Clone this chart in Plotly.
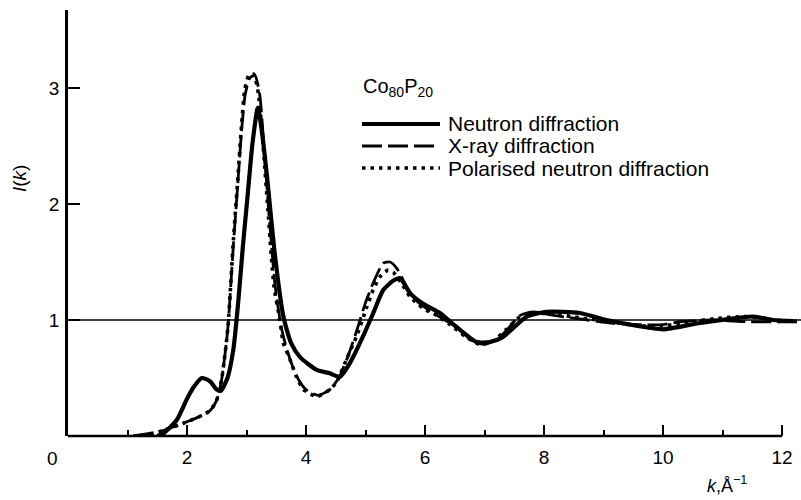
import plotly.graph_objects as go

# Interference function I(k) of amorphous Co80P20
k_neutron = [1.50, 1.60, 1.83, 1.99, 2.11, 2.25, 2.39, 2.50, 2.57, 2.68, 2.78, 2.86, 2.94,
             3.02, 3.10, 3.19, 3.26, 3.34, 3.48, 3.62, 3.75, 3.90, 4.18, 4.40, 4.57, 4.74,
             4.96, 5.13, 5.30, 5.47, 5.58, 5.75, 5.97, 6.25, 6.53, 6.87, 7.09, 7.30, 7.71,
             8.04, 8.60, 9.05, 9.45, 10.0, 10.57, 11.13, 11.52, 11.85, 12.19]
i_neutron = [0.0, 0.02, 0.14, 0.31, 0.42, 0.50, 0.47, 0.40, 0.39, 0.50, 0.75, 1.15, 1.64,
             2.08, 2.52, 2.83, 2.62, 2.26, 1.55, 1.03, 0.80, 0.68, 0.57, 0.54, 0.51, 0.63,
             0.86, 1.06, 1.26, 1.34, 1.36, 1.23, 1.14, 1.06, 0.94, 0.81, 0.81, 0.85, 1.03,
             1.07, 1.06, 1.00, 0.96, 0.92, 0.97, 1.01, 1.03, 1.00, 0.99]

k_xray = [1.10, 1.55, 1.94, 2.22, 2.39, 2.50, 2.58, 2.64, 2.69, 2.78, 2.86, 2.92, 2.98, 3.06,
          3.14, 3.22, 3.30, 3.38, 3.48, 3.58, 3.66, 3.76, 3.88, 4.00, 4.20, 4.40, 4.55, 4.70,
          4.86, 5.00, 5.13, 5.30, 5.41, 5.52, 5.69, 5.85, 6.05, 6.30, 6.55, 6.80, 7.00, 7.20,
          7.37, 7.60, 7.82, 8.16, 8.60, 9.17, 9.60, 10.0, 10.29, 10.85, 11.41, 11.85, 12.30]
i_xray = [0.0, 0.04, 0.11, 0.17, 0.22, 0.31, 0.48, 0.71, 0.95, 1.65, 2.22, 2.65, 2.95, 3.09,
          3.11, 2.95, 2.45, 1.90, 1.30, 0.95, 0.78, 0.62, 0.48, 0.40, 0.35, 0.40, 0.50, 0.68,
          0.92, 1.15, 1.32, 1.49, 1.50, 1.45, 1.29, 1.17, 1.09, 1.01, 0.93, 0.82, 0.79, 0.83,
          0.91, 1.04, 1.07, 1.04, 1.01, 0.97, 0.96, 0.96, 0.985, 1.00, 0.985, 0.985, 0.985]

k_polar = [1.10, 1.30, 1.55, 1.94, 2.22, 2.39, 2.50, 2.58, 2.64, 2.69, 2.78, 2.86, 2.92, 2.97,
           3.04, 3.12, 3.20, 3.28, 3.36, 3.46, 3.56, 3.62, 3.73, 3.84, 3.96, 4.18, 4.40, 4.52,
           4.68, 4.85, 5.02, 5.13, 5.24, 5.38, 5.47, 5.60, 5.75, 5.97, 6.20, 6.42, 6.70, 6.92,
           7.15, 7.37, 7.60, 7.82, 8.16, 8.60, 9.17, 9.60, 10.0, 10.29, 10.85, 11.41, 11.85, 12.25]
i_polar = [0.0, 0.0, 0.04, 0.11, 0.17, 0.22, 0.31, 0.48, 0.71, 0.95, 1.69, 2.26, 2.70, 2.98,
           3.11, 3.12, 2.95, 2.50, 1.95, 1.30, 1.00, 0.80, 0.66, 0.51, 0.40, 0.34, 0.40, 0.47,
           0.66, 0.86, 1.11, 1.26, 1.37, 1.43, 1.41, 1.32, 1.20, 1.10, 1.04, 0.96, 0.85, 0.79,
           0.82, 0.92, 1.03, 1.06, 1.05, 1.02, 0.98, 0.95, 0.95, 0.97, 1.01, 1.03, 1.00, 0.99]

series_names = ["Neutron diffraction", "X-ray diffraction", "Polarised neutron diffraction"]
x_major = [2, 4, 6, 8, 10, 12]
x_minor = [1, 3, 5, 7, 9, 11]
y_ticks = [1, 2, 3]

FONT = "Liberation Sans, Arial, Helvetica, sans-serif"
W, H = 801, 500
ML, MR, MT, MB = 68, 0, 10, 64
PX_PER_K, PX_PER_I = 59.5, 116.0
X_MAX = (W - ML - MR) / PX_PER_K
Y_MAX = (H - MT - MB) / PX_PER_I

styles = [dict(color="black", width=4.2),
          dict(color="black", width=2.8, dash="20px,6px"),
          dict(color="black", width=3.6, dash="3.5px,5px")]

fig = go.Figure()
for kk, ii, st, name in zip([k_neutron, k_xray, k_polar], [i_neutron, i_xray, i_polar],
                            styles, series_names):
    fig.add_trace(go.Scatter(x=kk, y=ii, mode="lines", name=name, line=st,
                             line_shape="spline", line_smoothing=0.6, showlegend=False,
                             cliponaxis=False))


def px_x(px):
    return (px - ML) / (W - ML - MR)


def px_y(py):
    return (H - MB - py) / (H - MT - MB)


shapes = [
    # reference level I(k) = 1
    dict(type="line", xref="paper", yref="y", x0=0, x1=1, y0=1, y1=1,
         line=dict(color="black", width=1.3), layer="below"),
    # k axis, ending at k = 12
    dict(type="line", xref="paper", yref="paper", x0=0, x1=12 / X_MAX, y0=0, y1=0,
         line=dict(color="black", width=2.6)),
]

# legend drawn beside the compound label
legend_rows = [124, 146, 168]
for row, st, name in zip(legend_rows, styles, series_names):
    shapes.append(dict(type="line", xref="paper", yref="paper",
                       x0=px_x(362), x1=px_x(440), y0=px_y(row), y1=px_y(row),
                       line=st))

annotations = [
    dict(text="Co<sub>80</sub>P<sub>20</sub>", x=px_x(361), y=px_y(87), xref="paper",
         yref="paper", xanchor="left", yanchor="middle", showarrow=False,
         font=dict(family=FONT, size=20, color="black")),
    dict(text="<i>I</i>(<i>k</i>)", x=px_x(20), y=px_y(179), xref="paper", yref="paper",
         textangle=-90, showarrow=False, xanchor="center", yanchor="middle",
         font=dict(family=FONT, size=19, color="black")),
    dict(text="<i>k</i>,Å<sup>−1</sup>", x=px_x(727), y=px_y(484), xref="paper",
         yref="paper", showarrow=False, xanchor="center", yanchor="middle",
         font=dict(family=FONT, size=18, color="black")),
    dict(text="0", x=px_x(52), y=px_y(458), xref="paper", yref="paper", showarrow=False,
         xanchor="center", yanchor="middle", font=dict(family=FONT, size=19, color="black")),
]
for row, name in zip(legend_rows, series_names):
    annotations.append(dict(text=name, x=px_x(446), y=px_y(row), xref="paper", yref="paper",
                            xanchor="left", yanchor="middle", showarrow=False,
                            font=dict(family=FONT, size=21, color="black")))

fig.update_layout(
    width=W, height=H,
    margin=dict(l=ML, r=MR, t=MT, b=MB, pad=0),
    paper_bgcolor="white", plot_bgcolor="white",
    font=dict(family=FONT, size=19, color="black"),
    shapes=shapes, annotations=annotations,
    xaxis=dict(range=[0, X_MAX], tickvals=x_major, ticktext=[str(v) for v in x_major],
               ticks="inside", ticklen=11, tickwidth=2, tickcolor="black",
               minor=dict(tickvals=x_minor, ticks="inside", ticklen=6, tickwidth=2,
                          tickcolor="black"),
               showline=False, showgrid=False, zeroline=False, ticklabelstandoff=8,
               tickfont=dict(family=FONT, size=19)),
    yaxis=dict(range=[0, Y_MAX], tickvals=y_ticks, ticktext=[str(v) for v in y_ticks],
               ticks="inside", ticklen=12, tickwidth=1.8, tickcolor="black",
               showline=True, linewidth=2.6, linecolor="black",
               showgrid=False, zeroline=False, ticklabelstandoff=2,
               tickfont=dict(family=FONT, size=19)),
)

fig.write_html("out.html")
